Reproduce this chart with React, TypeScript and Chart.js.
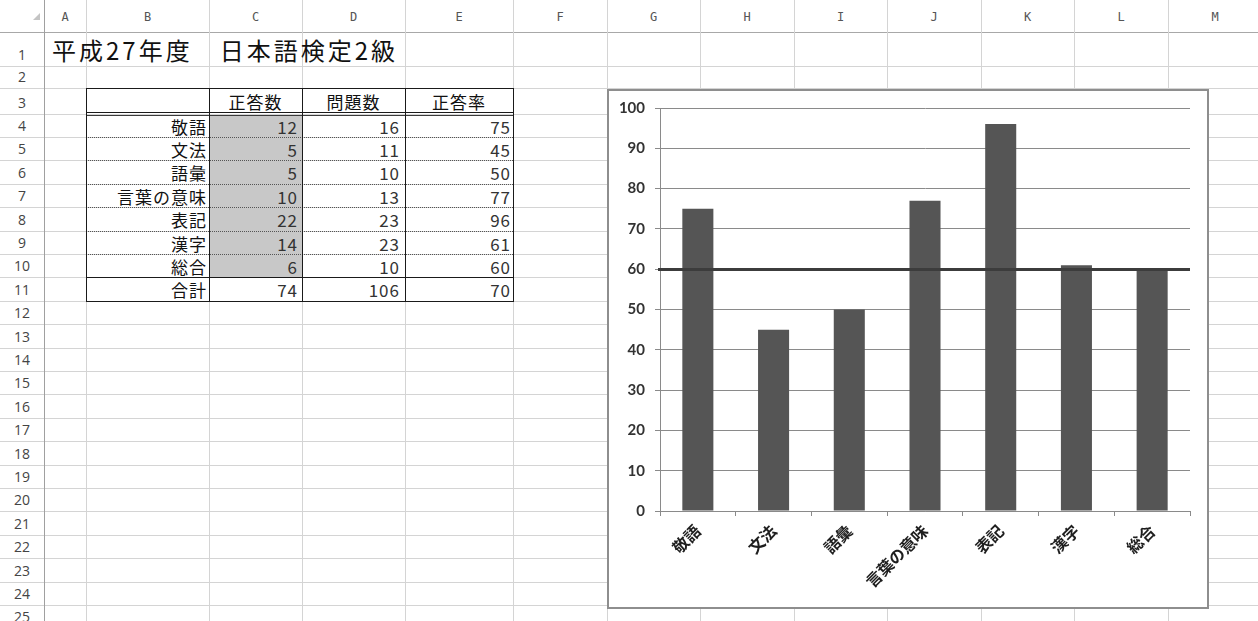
import React, { useEffect, useRef } from 'react';
import { Chart, registerables } from 'chart.js';

Chart.register(...registerables);

// ---------- data ----------
const sheetTitle = '平成27年度　日本語検定2級';
const columnLetters = ['A', 'B', 'C', 'D', 'E', 'F', 'G', 'H', 'I', 'J', 'K', 'L', 'M'];
const tableHeaders = ['正答数', '問題数', '正答率'];
const categories = ['敬語', '文法', '語彙', '言葉の意味', '表記', '漢字', '総合'];
const correctCounts = [12, 5, 5, 10, 22, 14, 6];
const questionCounts = [16, 11, 10, 13, 23, 23, 10];
const correctRates = [75, 45, 50, 77, 96, 61, 60];
const totalLabel = '合計';
const totalValues = [74, 106, 70];
const passMark = 60;
const yMin = 0;
const yMax = 100;
const yStep = 10;

// ---------- layout ----------
const COL_EDGES = [44, 86, 209, 302, 405, 513, 607, 700, 794, 887, 981, 1074, 1168, 1262];
const ROW_COUNT = 26;
function rowTop(r: number): number {
  if (r === 1) return 32;
  if (r === 2) return 66;
  if (r === 3) return 88;
  return 113.5 + (r - 4) * 23.4;
}
const GRID = '#d4d4d4';
const CJK = "'Noto Sans CJK JP', 'Noto Sans', sans-serif";

const passLinePlugin = {
  id: 'passLine',
  afterDatasetsDraw(chart: any) {
    const { ctx, chartArea, scales } = chart;
    const y = Math.round(scales.y.getPixelForValue(passMark)) + 0.5;
    ctx.save();
    ctx.strokeStyle = '#3c3c3c';
    ctx.lineWidth = 3;
    ctx.beginPath();
    ctx.moveTo(chartArea.left - 2, y);
    ctx.lineTo(chartArea.right, y);
    ctx.stroke();
    ctx.restore();
  },
};

function RateChart() {
  const ref = useRef<HTMLCanvasElement | null>(null);
  useEffect(() => {
    if (!ref.current) return;
    const chart = new Chart(ref.current, {
      type: 'bar',
      data: {
        labels: categories,
        datasets: [
          {
            label: '正答率',
            data: correctRates,
            backgroundColor: '#555555',
            borderWidth: 0,
            barPercentage: 0.41,
            categoryPercentage: 1,
          },
        ],
      },
      options: {
        responsive: false,
        animation: false,
        devicePixelRatio: 1,
        layout: { padding: { top: 17, right: 17, left: 0, bottom: 0 } },
        plugins: { legend: { display: false }, tooltip: { enabled: false } },
        scales: {
          x: {
            grid: {
              display: true,
              drawOnChartArea: false,
              drawTicks: true,
              tickLength: 5,
              color: '#8a8a8a',
              offset: true,
            },
            border: { color: '#8a8a8a', width: 1 },
            ticks: {
              minRotation: 45,
              maxRotation: 45,
              autoSkip: false,
              padding: 5,
              color: '#1e1e1e',
              font: { family: CJK, size: 16, weight: 'bold' },
            },
            afterFit(scale: any) {
              scale.height = 96;
            },
          },
          y: {
            min: yMin,
            max: yMax,
            ticks: {
              stepSize: yStep,
              padding: 10,
              color: '#333333',
              font: { family: "Lato, 'Open Sans', sans-serif", size: 15, weight: 'bold' },
            },
            grid: { color: '#8a8a8a', lineWidth: 1, tickLength: 5, drawTicks: true },
            border: { color: '#8a8a8a', width: 1 },
            afterFit(scale: any) {
              scale.width = 51;
              scale.paddingTop = 0;
              scale.paddingBottom = 0;
            },
          },
        },
      },
      plugins: [passLinePlugin],
    } as any);
    return () => chart.destroy();
  }, []);
  return (
    <div
      style={{
        position: 'absolute',
        left: 607,
        top: 89,
        width: 602,
        height: 520,
        boxSizing: 'border-box',
        border: '2px solid #8e8e8e',
        background: '#ffffff',
      }}
    >
      <canvas ref={ref} width={598} height={516} style={{ display: 'block', width: 598, height: 516 }} />
    </div>
  );
}

function HLine({ y, x1, x2, color, dotted, w = 1 }: any) {
  return (
    <div
      style={{
        position: 'absolute',
        left: x1,
        top: Math.round(y),
        width: x2 - x1,
        height: 0,
        borderTop: `${w}px ${dotted ? 'dotted' : 'solid'} ${color}`,
      }}
    />
  );
}
function VLine({ x, y1, y2, color, w = 1 }: any) {
  return (
    <div
      style={{
        position: 'absolute',
        left: x,
        top: Math.round(y1),
        width: 0,
        height: Math.round(y2) - Math.round(y1),
        borderLeft: `${w}px solid ${color}`,
      }}
    />
  );
}

function Cell({ x1, x2, r, text, align = 'right', color = '#111', pad = 4 }: any) {
  const t = rowTop(r);
  const b = rowTop(r + 1);
  return (
    <div
      style={{
        position: 'absolute',
        left: x1,
        width: x2 - x1,
        top: Math.round(t) + 1,
        height: Math.round(b) - Math.round(t),
        lineHeight: `${Math.round(b) - Math.round(t)}px`,
        textAlign: align,
        paddingRight: align === 'right' ? pad : 0,
        boxSizing: 'border-box',
        fontFamily: CJK,
        fontSize: 17,
        letterSpacing: 1,
        color,
        whiteSpace: 'nowrap',
      }}
    >
      {text}
    </div>
  );
}

export default function App() {
  const rows = Array.from({ length: ROW_COUNT }, (_, i) => i + 1);
  const tableLeft = COL_EDGES[1];
  const tableRight = COL_EDGES[5];
  return (
    <div
      style={{
        position: 'absolute',
        left: 0,
        top: 0,
        width: 1258,
        height: 621,
        overflow: 'hidden',
        background: '#ffffff',
      }}
    >
      {/* corner triangle */}
      <div
        style={{
          position: 'absolute',
          left: 33,
          top: 13,
          width: 0,
          height: 0,
          borderLeft: '7px solid transparent',
          borderBottom: '7px solid #c4c4c4',
        }}
      />
      {/* column letters */}
      {columnLetters.map((c, i) => (
        <div
          key={c}
          style={{
            position: 'absolute',
            left: COL_EDGES[i],
            width: COL_EDGES[i + 1] - COL_EDGES[i],
            top: 0,
            height: 32,
            lineHeight: '34px',
            textAlign: 'center',
            fontFamily: "'DejaVu Sans Mono', monospace",
            fontSize: 12,
            color: '#555',
          }}
        >
          {c}
        </div>
      ))}
      {/* row numbers */}
      {rows.map((r) => {
        const b = rowTop(r + 1);
        return (
          <div
            key={r}
            style={{
              position: 'absolute',
              left: 0,
              width: 44,
              top: Math.round(b) - 22,
              height: 22,
              lineHeight: '22px',
              textAlign: 'center',
              fontFamily: "'Open Sans', sans-serif",
              fontSize: 14,
              color: '#444',
            }}
          >
            {r}
          </div>
        );
      })}
      {/* horizontal grid lines */}
      {rows.map((r) => (
        <HLine key={'h' + r} y={rowTop(r)} x1={0} x2={1258} color={r === 1 ? '#a8a8a8' : GRID} />
      ))}
      <HLine y={rowTop(ROW_COUNT + 1)} x1={0} x2={1258} color={GRID} />
      {/* vertical grid lines */}
      {COL_EDGES.map((x, i) => (
        <VLine key={'v' + i} x={x} y1={0} y2={621} color={i === 0 ? '#a0a0a0' : GRID} />
      ))}

      {/* title */}
      <div
        style={{
          position: 'absolute',
          left: 52,
          top: 34,
          height: 32,
          lineHeight: '32px',
          fontFamily: CJK,
          fontSize: 24,
          letterSpacing: 3,
          color: '#111',
          whiteSpace: 'nowrap',
        }}
      >
        {sheetTitle}
      </div>

      {/* shaded C column */}
      <div
        style={{
          position: 'absolute',
          left: COL_EDGES[2] + 1,
          width: COL_EDGES[3] - COL_EDGES[2] - 1,
          top: 116,
          height: Math.round(rowTop(11)) - 116,
          background: '#c8c8c8',
        }}
      />

      {/* table borders */}
      <HLine y={rowTop(3)} x1={tableLeft} x2={tableRight + 1} color="#1a1a1a" />
      <HLine y={112} x1={tableLeft} x2={tableRight + 1} color="#1a1a1a" />
      <HLine y={115} x1={tableLeft} x2={tableRight + 1} color="#3a3a3a" />
      {[5, 6, 7, 8, 9, 10].map((r) => (
        <HLine key={'d' + r} y={rowTop(r)} x1={tableLeft} x2={tableRight} color="#555" dotted />
      ))}
      <HLine y={rowTop(11)} x1={tableLeft} x2={tableRight + 1} color="#1a1a1a" />
      <HLine y={rowTop(12)} x1={tableLeft} x2={tableRight + 1} color="#1a1a1a" />
      {[1, 2, 3, 4, 5].map((ci) => (
        <VLine key={'tv' + ci} x={COL_EDGES[ci]} y1={rowTop(3)} y2={rowTop(12) + 1} color="#1a1a1a" />
      ))}

      {/* table header */}
      {tableHeaders.map((h, i) => (
        <Cell key={h} x1={COL_EDGES[2 + i]} x2={COL_EDGES[3 + i]} r={3} text={h} align="center" />
      ))}
      {/* table body */}
      {categories.map((c, i) => (
        <React.Fragment key={c}>
          <Cell x1={COL_EDGES[1]} x2={COL_EDGES[2]} r={4 + i} text={c} pad={2} />
          <Cell x1={COL_EDGES[2]} x2={COL_EDGES[3]} r={4 + i} text={correctCounts[i]} color="#333" />
          <Cell x1={COL_EDGES[3]} x2={COL_EDGES[4]} r={4 + i} text={questionCounts[i]} color="#333" pad={5} />
          <Cell x1={COL_EDGES[4]} x2={COL_EDGES[5]} r={4 + i} text={correctRates[i]} color="#333" pad={2} />
        </React.Fragment>
      ))}
      <Cell x1={COL_EDGES[1]} x2={COL_EDGES[2]} r={11} text={totalLabel} pad={2} />
      <Cell x1={COL_EDGES[2]} x2={COL_EDGES[3]} r={11} text={totalValues[0]} color="#333" />
      <Cell x1={COL_EDGES[3]} x2={COL_EDGES[4]} r={11} text={totalValues[1]} color="#333" pad={5} />
      <Cell x1={COL_EDGES[4]} x2={COL_EDGES[5]} r={11} text={totalValues[2]} color="#333" pad={2} />

      <RateChart />
    </div>
  );
}
